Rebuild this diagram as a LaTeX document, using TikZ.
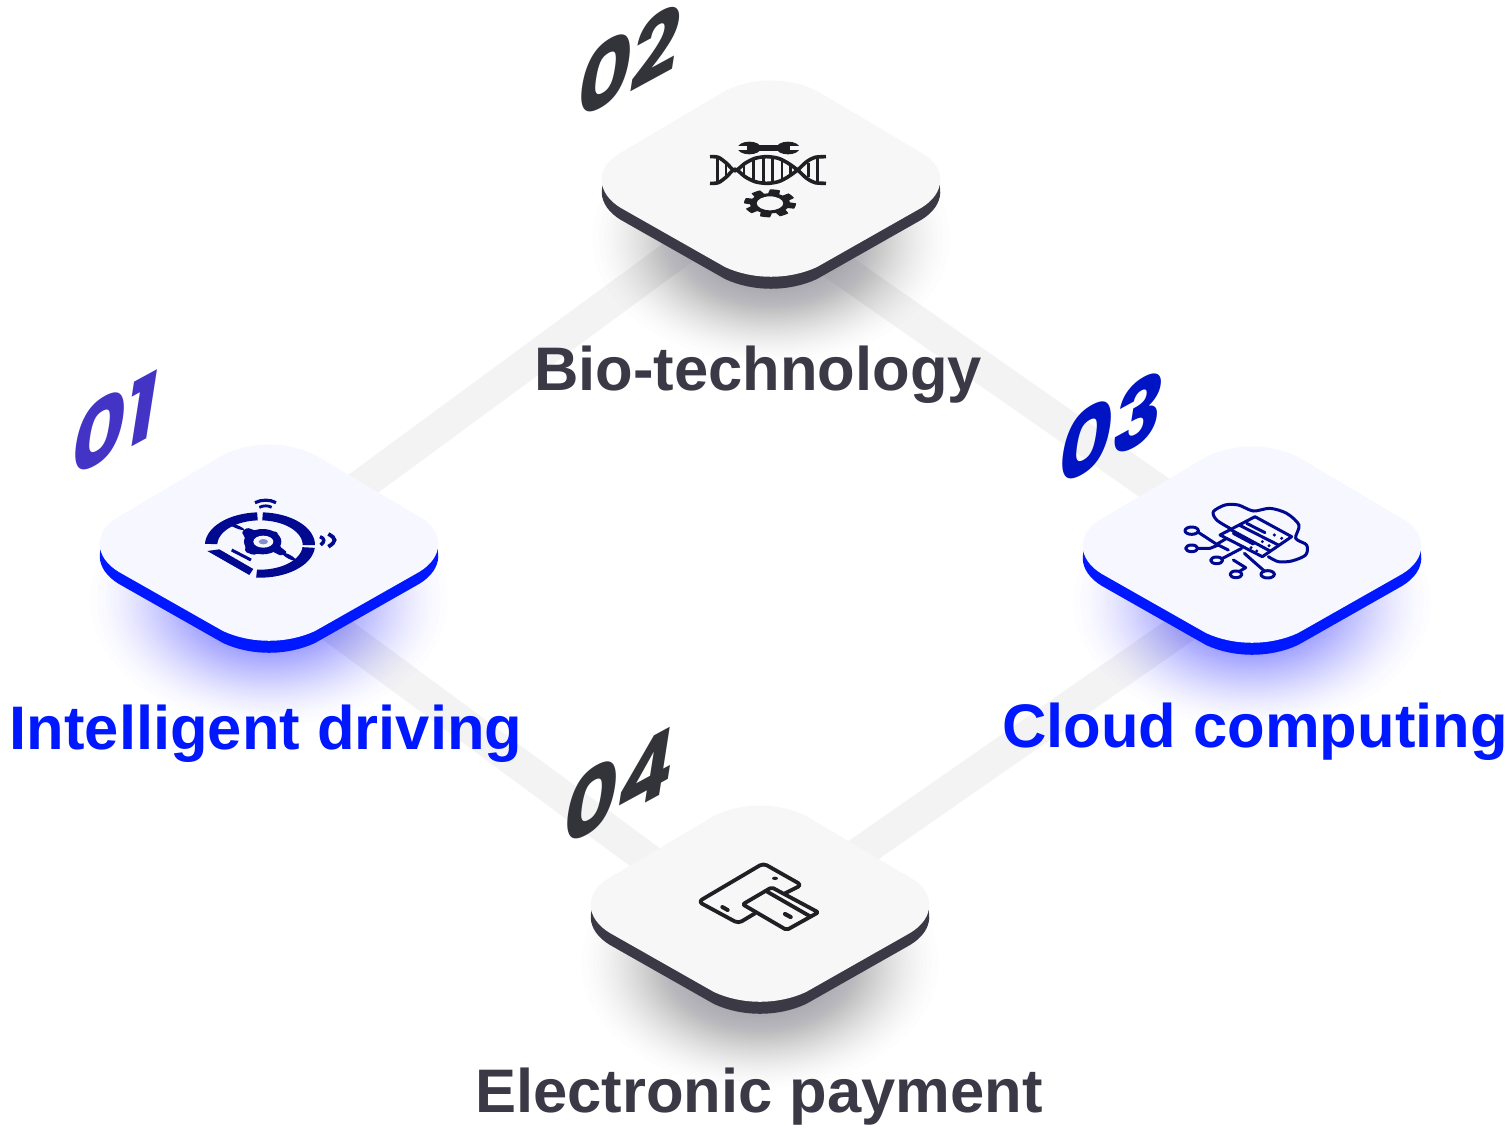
\documentclass[tikz,border=0pt]{standalone}
\usepackage{fontspec}
\setmainfont{Liberation Sans}
\newfontfamily\numfont{Poppins}
\definecolor{bandc}{HTML}{F3F3F3}
\definecolor{inkblue}{HTML}{0018FF}
\definecolor{inkdark}{HTML}{3A3945}
\definecolor{iconblue}{HTML}{00098F}
\definecolor{iconblack}{HTML}{1F1F24}
\definecolor{topblue}{HTML}{F7F8FF}
\definecolor{topgray}{HTML}{F7F7F7}
\definecolor{numone}{HTML}{4334C6}
\definecolor{numthree}{HTML}{0014C4}
\definecolor{numdark}{HTML}{33333A}
\tikzset{
 band/.style={line width=32pt,draw=bandc},
 lbl/.style={font=\bfseries\fontsize{61.5}{61.5}\selectfont,anchor=base,inner sep=0pt},
 num/.style={font=\numfont\bfseries\fontsize{74}{74}\selectfont,inner sep=0pt,cm={1.12,0.61,0.2,1.28,(0,0)}},
}
\newcommand{\cardpath}{(-46,-88) .. controls (-18,-102) and (18,-102) .. (46,-88) -- (154,-24) .. controls (175,-10) and (175,14) .. (150,29) -- (46,88) .. controls (18,101) and (-18,101) .. (-46,88) -- (-150,29) .. controls (-175,14) and (-175,-10) .. (-154,-24) -- cycle}
% #1 x, #2 y, #3 top colour, #4 side colour
\newcommand{\cardat}[4]{%
 \begin{scope}[shift={(#1,#2)}]
  \fill[#4] (-168.5,2) rectangle (168.5,14);
  \fill[#4,shift={(0,12)}] \cardpath;
  \fill[#3] \cardpath;
 \end{scope}}
% soft glow: stacked ellipses. #1 x,#2 y, #3 colour, #4 opacity of a layer
\newcommand{\glowat}[4]{\foreach \i in {1,...,72}{%
  \pgfmathsetmacro{\ff}{0.5-sin(asin(1-2*(\i-0.5)/72)/3)}%
  \fill[#3,fill opacity=#4] (#1,#2) ellipse [x radius={188*\ff},y radius={132*\ff}];}}
% filled elliptical ring segment: cx,cy,rx,ry,rxi,ryi,a,b
\newcommand{\ringseg}[8]{\fill plot[domain=#7:#8,samples=30] ({#1+#3*cos(\x)},{#2+#4*sin(\x)}) -- plot[domain=#8:#7,samples=30] ({#1+#5*cos(\x)},{#2+#6*sin(\x)}) -- cycle;}
\begin{document}
\begin{tikzpicture}[x=1pt,y=-1pt]
\useasboundingbox (0,0) rectangle (1506,1128);
\fill[white] (0,0) rectangle (1506,1128);
% link ends
\coordinate (la1) at (269,553);
\coordinate (la2) at (771,184);
\coordinate (lb2) at (771,220);
\coordinate (lb3) at (1252,556);
\coordinate (lc1) at (269,580);
\coordinate (lc4) at (760,942);
\coordinate (ld3) at (1252,580);
\coordinate (ld4) at (760,922);
\draw[band] (la1) -- (la2);
\draw[band] (lb2) -- (lb3);
\draw[band] (lc1) -- (lc4);
\draw[band] (ld3) -- (ld4);
% glows
\glowat{269}{600}{inkblue}{0.0068}
\glowat{771}{238}{inkdark}{0.0075}
\glowat{1252}{602}{inkblue}{0.0068}
\glowat{760}{963}{inkdark}{0.0068}
% cards
\cardat{269}{543}{topblue}{inkblue}
\cardat{771}{179}{topgray}{inkdark}
\cardat{1252}{545}{topblue}{inkblue}
\cardat{760}{904}{topgray}{inkdark}
% labels
\node[lbl,text=inkblue] (t1) at (266,749) {Intelligent driving};
\node[lbl,text=inkdark] (t2) at (758,390) {Bio-technology};
\node[lbl,text=inkblue] (t3) at (1255,747) {Cloud computing};
\node[lbl,text=inkdark] (t4) at (759,1112) {Electronic payment};
% numbers
\node[num,text=numone] (n1) at (116,423) {01};
\node[num,text=numdark] (n2) at (630,61) {02};
\node[num,text=numthree] (n3) at (1112,427) {03};
\node[num,text=numdark] (n4) at (620,785) {04};
% icon 1
\begin{scope}[shift={(190,490)},x=0.3333pt,y=-0.3333pt,iconblue]
 \ringseg{210}{165}{165}{98}{128}{74}{182}{267}
 \ringseg{210}{165}{165}{98}{128}{74}{273}{360}
 \ringseg{210}{165}{165}{98}{128}{74}{5}{94}
 \fill (52,183) -- (88,178) -- (190,237) -- (178,255) -- cycle;
 \fill (218,155) ellipse [x radius=56,y radius=38];
 \fill[rounded corners=1.5pt] (155,125) -- (172,113) -- (205,125) -- (262,125) -- (270,170) -- (292,187) -- (272,197) -- (238,180) -- (190,195) -- (165,185) -- (168,150) -- cycle;
 \fill[topblue] (220,155) ellipse [x radius=30,y radius=18];
 \fill[iconblue!45!topblue] (220,155) ellipse [x radius=14,y radius=8];
 \fill[rotate around={-22:(140,110)}] (140,110) ellipse [x radius=24,y radius=5];
 \fill[rotate around={-28:(297,200)}] (297,200) ellipse [x radius=22,y radius=6];
 \draw[line width=3pt] (125,180) -- (183,210);
 \draw[line width=3.2pt] (195,38) .. controls (215,28) and (240,28) .. (258,38);
 \draw[line width=2.8pt] (208,52) .. controls (220,46) and (235,46) .. (245,52);
 \draw[line width=3.4pt] (390,140) .. controls (405,145) and (405,155) .. (392,165);
 \draw[line width=3.8pt] (415,132) .. controls (440,145) and (440,155) .. (415,170);
\end{scope}
% icon 2
\begin{scope}[shift={(700,130)},x=0.3333pt,y=-0.3333pt,iconblack,line width=3.6pt]
 \fill (148,54) ellipse [x radius=35,y radius=19];
 \fill (264,54) ellipse [x radius=35,y radius=19];
 \fill (148,46) rectangle (264,62);
 \fill[topgray] (108,47) rectangle (142,61);
 \fill[topgray] (270,47) rectangle (304,61);
 \draw plot[smooth] coordinates {(30,80) (55,82) (80,100) (105,122) (135,100) (165,85) (200,80) (235,85) (265,100) (295,122) (320,145) (345,158) (378,160)};
 \draw plot[smooth] coordinates {(30,160) (55,158) (80,140) (105,118) (135,140) (165,155) (200,160) (235,155) (265,140) (295,118) (320,95) (345,82) (378,80)};
 \foreach \rx/\ry in {52/40,78/20,132/22,160/36,190/40,218/38,246/28,272/16,325/22,352/38}{\draw[line width=2.5pt] (\rx,120-\ry) -- (\rx,120+\ry);}
 \fill[even odd rule] plot[domain=0:360,samples=145] ({210+(69+9*max(-1,min(1,3*sin(8*\x)+1)))*cos(\x)},{220+(36+6*max(-1,min(1,3*sin(8*\x)+1)))*sin(\x)}) -- cycle (210,220) ellipse [x radius=40,y radius=21];
\end{scope}
% icon 3
\begin{scope}[shift={(1175,495)},x=0.3333pt,y=-0.3333pt,iconblue,line width=3pt,line join=round,line cap=round]
 \draw plot[smooth] coordinates {(165,100) (125,75) (115,50) (150,30) (190,30) (235,48) (285,40) (335,55) (372,90) (362,130) (395,150) (392,180) (350,198) (310,200) (280,185)};
 \draw[fill=topblue] (240,65) -- (350,125) -- (262,185) -- (135,120) -- cycle;
 \draw (192,90) -- (310,150);
 \draw (165,103) -- (285,168);
 \draw (215,85) -- (270,113);
 \draw (175,115) -- (235,147);
 \fill (298,120) circle (5) (320,130) circle (5) (262,140) circle (5) (282,152) circle (5) (228,158) circle (5) (245,168) circle (5);
 \draw (50,107) ellipse [x radius=20,y radius=11];
 \draw (50,160) ellipse [x radius=18,y radius=10];
 \draw (125,196) ellipse [x radius=18,y radius=10];
 \draw (183,238) ellipse [x radius=18,y radius=10];
 \draw (278,238) ellipse [x radius=20,y radius=11];
 \draw (70,112) -- (125,148) -- (155,130);
 \draw (68,160) -- (105,160) -- (130,150) -- (160,165);
 \draw (143,190) -- (200,160);
 \draw (175,195) -- (212,218) -- (195,228);
 \draw (208,175) -- (268,228);
\end{scope}
% icon 4
\begin{scope}[shift={(690,855)},x=0.3333pt,y=-0.3333pt,iconblack,line width=3.8pt,line join=round,line cap=round]
 \draw[rounded corners=4pt] (285,115) -- (335,90) -- (220,25) -- (25,140) -- (145,205) -- (195,175);
 \draw[rounded corners=2pt] (245,97) -- (385,172) -- (290,225) -- (158,148) -- cycle;
 \draw (228,108) -- (362,185);
 \fill (255,70) ellipse [x radius=9,y radius=5];
 \draw[line width=4pt] (97,156) -- (113,165);
 \draw[line width=4.2pt] (285,177) -- (302,186);
\end{scope}
\end{tikzpicture}
\end{document}
